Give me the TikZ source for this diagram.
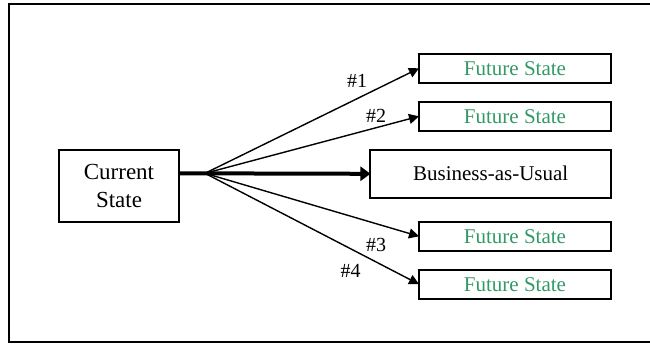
\documentclass[tikz,border=0pt]{standalone}
\usepackage{fontspec}
\setmainfont{Liberation Serif}
\usepackage{xcolor}
\usetikzlibrary{arrows.meta,positioning}
\definecolor{futgreen}{RGB}{51,153,102}

\begin{document}
\begin{tikzpicture}[x=1pt, y=-1pt,
    box/.style={rectangle, draw, line width=2pt, inner sep=0pt, outer sep=0pt},
    future/.style={box, minimum width=192pt, minimum height=28.7pt, text=futgreen, font=\fontsize{21}{25}\selectfont},
    num/.style={inner sep=0pt, font=\fontsize{20}{24}\selectfont},
    arrow/.style={-{Triangle[length=10pt,width=10pt]}, line width=1.4pt},
    bigarrow/.style={-{Triangle[length=10pt,width=14pt]}, line width=4pt}
]
    \useasboundingbox (0,0) rectangle (650,343);
    \draw[line width=2pt] (9,4) rectangle (660,341.5);

    \node[box, minimum width=120pt, minimum height=71.7pt, align=center,
          font=\fontsize{23}{28}\selectfont] (current) at (119,185.8) {Current\\State};
    \node[box, minimum width=240.5pt, minimum height=47.7pt,
          font=\fontsize{21}{25}\selectfont] (bau) at (490.7,173.8) {Business-as-Usual};
    \node[future] (fut1) at (515,68.3) {Future State};
    \node[future] (fut2) at (515,116.3) {Future State};
    \node[future] (fut3) at (515,236.3) {Future State};
    \node[future] (fut4) at (515,284.2) {Future State};

    \coordinate (fan) at (205,173.3);

    \draw[bigarrow] (current.east |- fan) -- (bau.west);
    \draw[arrow] (fan) -- (fut1.west);
    \draw[arrow] (fan) -- (fut2.west);
    \draw[arrow] (fan) -- (fut3.west);
    \draw[arrow] (fan) -- (fut4.west);

    \node[num] (n1) at (357,81) {\#1};
    \node[num] (n2) at (376,115.7) {\#2};
    \node[num] (n3) at (376,245) {\#3};
    \node[num] (n4) at (350.6,270.7) {\#4};
\end{tikzpicture}
\end{document}
